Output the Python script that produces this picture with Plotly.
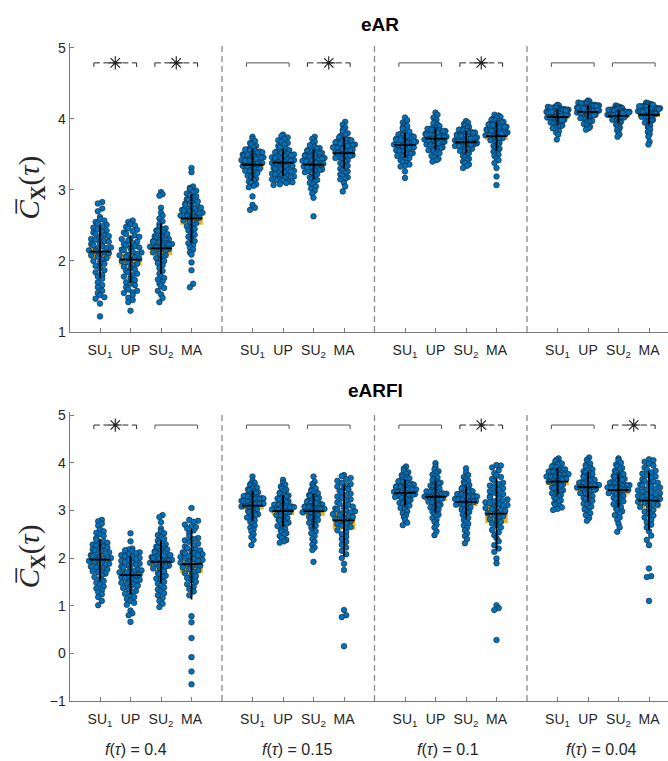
import numpy as np
import plotly.graph_objects as go

# ---------------- data ----------------
CATEGORIES = ["SU<sub>1</sub>", "UP", "SU<sub>2</sub>", "MA"]
F_TAU = ["0.4", "0.15", "0.1", "0.04"]
PANEL_TITLES = ["eAR", "eARFI"]
Y_TICKS_TOP = [1, 2, 3, 4, 5]
Y_TICKS_BOTTOM = [-1, 0, 1, 2, 3, 4, 5]

# significance of (SU1 vs UP, SU2 vs MA) per f(tau) group
SIG_EAR = [[True, True], [False, True], [False, True], [False, False]]
SIG_EARFI = [[True, False], [False, False], [False, True], [False, True]]

# ---- eAR, f = 0.4 ----
eAR_04_SU1 = [2.83, 2.81, 2.74, 2.70, 2.62, 2.59, 2.57, 2.55, 2.53, 2.51,
              2.49, 2.47, 2.45, 2.43, 2.41, 2.40, 2.38, 2.36, 2.35, 2.33,
              2.31, 2.30, 2.28, 2.27, 2.25, 2.24, 2.22, 2.21, 2.19, 2.18,
              2.17, 2.15, 2.14, 2.12, 2.11, 2.09, 2.08, 2.06, 2.04, 2.02,
              2.00, 1.98, 1.96, 1.93, 1.90, 1.87, 1.84, 1.80, 1.78, 1.75,
              1.70, 1.66, 1.63, 1.58, 1.55, 1.52, 1.49, 1.47, 1.40, 1.22]
eAR_04_UP = [2.57, 2.55, 2.52, 2.50, 2.48, 2.46, 2.44, 2.42, 2.40, 2.38,
             2.36, 2.34, 2.32, 2.31, 2.29, 2.27, 2.25, 2.24, 2.22, 2.21,
             2.19, 2.18, 2.16, 2.15, 2.13, 2.12, 2.10, 2.09, 2.08, 2.06,
             2.05, 2.03, 2.02, 2.00, 1.98, 1.96, 1.94, 1.92, 1.90, 1.88,
             1.86, 1.84, 1.82, 1.80, 1.78, 1.76, 1.73, 1.70, 1.68, 1.66,
             1.63, 1.60, 1.58, 1.56, 1.55, 1.52, 1.48, 1.45, 1.42, 1.30]
eAR_04_SU2 = [2.97, 2.94, 2.92, 2.75, 2.68, 2.64, 2.60, 2.56, 2.52, 2.48,
              2.46, 2.45, 2.43, 2.42, 2.40, 2.38, 2.36, 2.35, 2.33, 2.32,
              2.31, 2.30, 2.29, 2.28, 2.27, 2.26, 2.25, 2.24, 2.23, 2.22,
              2.21, 2.20, 2.19, 2.18, 2.17, 2.15, 2.14, 2.12, 2.10, 2.08,
              2.06, 2.04, 2.02, 2.00, 1.97, 1.94, 1.90, 1.86, 1.82, 1.78,
              1.76, 1.74, 1.71, 1.68, 1.65, 1.62, 1.58, 1.53, 1.48, 1.42]
eAR_04_MA = [3.31, 3.25, 3.05, 3.03, 3.01, 2.99, 2.97, 2.95, 2.93, 2.91,
             2.89, 2.87, 2.86, 2.85, 2.84, 2.82, 2.81, 2.79, 2.78, 2.77,
             2.75, 2.74, 2.73, 2.72, 2.71, 2.70, 2.69, 2.68, 2.67, 2.66,
             2.65, 2.64, 2.63, 2.62, 2.61, 2.60, 2.59, 2.57, 2.55, 2.53,
             2.51, 2.49, 2.47, 2.45, 2.43, 2.40, 2.37, 2.34, 2.31, 2.28,
             2.25, 2.22, 2.19, 2.16, 2.12, 2.09, 1.98, 1.87, 1.68, 1.63]
# ---- eAR, f = 0.15 ----
eAR_015_SU1 = [3.75, 3.72, 3.69, 3.66, 3.64, 3.62, 3.60, 3.58, 3.57, 3.56,
               3.55, 3.54, 3.53, 3.52, 3.51, 3.50, 3.49, 3.48, 3.47, 3.46,
               3.45, 3.44, 3.43, 3.42, 3.41, 3.40, 3.39, 3.38, 3.37, 3.36,
               3.35, 3.34, 3.33, 3.32, 3.31, 3.30, 3.29, 3.28, 3.27, 3.26,
               3.25, 3.24, 3.22, 3.20, 3.18, 3.16, 3.14, 3.12, 3.10, 3.08,
               3.06, 3.04, 2.91, 2.79, 2.75, 2.72, 3.47, 3.50, 3.44, 3.41]
eAR_015_UP = [3.78, 3.76, 3.74, 3.72, 3.70, 3.68, 3.66, 3.64, 3.62, 3.60,
              3.58, 3.56, 3.55, 3.54, 3.53, 3.52, 3.51, 3.50, 3.49, 3.48,
              3.47, 3.46, 3.45, 3.44, 3.43, 3.42, 3.41, 3.40, 3.39, 3.38,
              3.37, 3.36, 3.35, 3.34, 3.33, 3.32, 3.31, 3.30, 3.29, 3.28,
              3.27, 3.26, 3.25, 3.24, 3.23, 3.22, 3.21, 3.20, 3.19, 3.18,
              3.17, 3.16, 3.15, 3.14, 3.13, 3.12, 3.11, 3.10, 3.08, 3.07]
eAR_015_SU2 = [3.75, 3.72, 3.68, 3.65, 3.63, 3.61, 3.59, 3.58, 3.57, 3.56,
               3.55, 3.54, 3.53, 3.52, 3.51, 3.50, 3.49, 3.48, 3.47, 3.46,
               3.45, 3.44, 3.43, 3.42, 3.41, 3.40, 3.39, 3.38, 3.37, 3.36,
               3.35, 3.34, 3.33, 3.32, 3.31, 3.30, 3.29, 3.28, 3.27, 3.26,
               3.25, 3.24, 3.22, 3.20, 3.18, 3.16, 3.14, 3.12, 3.10, 3.08,
               3.05, 3.02, 2.99, 2.95, 2.89, 2.63, 3.50, 3.46, 3.42, 3.38]
eAR_015_MA = [3.96, 3.92, 3.88, 3.85, 3.82, 3.80, 3.78, 3.76, 3.74, 3.72,
              3.71, 3.70, 3.69, 3.68, 3.67, 3.66, 3.65, 3.64, 3.63, 3.62,
              3.61, 3.60, 3.59, 3.58, 3.57, 3.56, 3.55, 3.54, 3.53, 3.52,
              3.51, 3.50, 3.49, 3.48, 3.47, 3.46, 3.45, 3.44, 3.42, 3.40,
              3.38, 3.36, 3.34, 3.32, 3.30, 3.28, 3.26, 3.24, 3.22, 3.20,
              3.18, 3.16, 3.15, 3.10, 3.05, 2.98, 3.66, 3.62, 3.58, 3.70]
# ---- eAR, f = 0.1 ----
eAR_01_SU1 = [4.02, 3.98, 3.95, 3.92, 3.90, 3.88, 3.86, 3.84, 3.82, 3.80,
              3.79, 3.78, 3.77, 3.76, 3.75, 3.74, 3.73, 3.72, 3.71, 3.70,
              3.69, 3.68, 3.67, 3.66, 3.65, 3.64, 3.63, 3.62, 3.61, 3.60,
              3.59, 3.58, 3.57, 3.56, 3.55, 3.54, 3.53, 3.52, 3.51, 3.50,
              3.49, 3.48, 3.47, 3.46, 3.45, 3.44, 3.42, 3.40, 3.38, 3.36,
              3.34, 3.33, 3.26, 3.17, 3.70, 3.68, 3.74, 3.76, 3.64, 3.62]
eAR_01_UP = [4.09, 4.06, 4.02, 3.99, 3.96, 3.94, 3.92, 3.90, 3.88, 3.87,
             3.86, 3.85, 3.84, 3.83, 3.82, 3.81, 3.80, 3.79, 3.78, 3.77,
             3.76, 3.75, 3.74, 3.73, 3.72, 3.71, 3.70, 3.69, 3.68, 3.67,
             3.66, 3.65, 3.64, 3.63, 3.62, 3.61, 3.60, 3.59, 3.58, 3.57,
             3.56, 3.55, 3.54, 3.52, 3.50, 3.48, 3.46, 3.44, 3.42, 3.40,
             3.78, 3.76, 3.74, 3.72, 3.70, 3.81, 3.83, 3.85, 3.68, 3.66]
eAR_01_SU2 = [3.97, 3.95, 3.93, 3.91, 3.89, 3.87, 3.86, 3.85, 3.84, 3.83,
              3.82, 3.81, 3.80, 3.79, 3.78, 3.77, 3.76, 3.75, 3.74, 3.73,
              3.72, 3.71, 3.70, 3.69, 3.68, 3.67, 3.66, 3.65, 3.64, 3.63,
              3.62, 3.61, 3.60, 3.59, 3.58, 3.57, 3.56, 3.55, 3.54, 3.52,
              3.50, 3.48, 3.46, 3.44, 3.42, 3.40, 3.38, 3.36, 3.34, 3.31,
              3.80, 3.78, 3.76, 3.74, 3.72, 3.70, 3.68, 3.66, 3.64, 3.62]
eAR_01_MA = [4.06, 4.05, 4.03, 4.02, 4.00, 3.99, 3.98, 3.97, 3.96, 3.95,
             3.94, 3.93, 3.92, 3.91, 3.90, 3.89, 3.88, 3.87, 3.86, 3.85,
             3.84, 3.83, 3.82, 3.81, 3.80, 3.79, 3.78, 3.77, 3.76, 3.75,
             3.74, 3.73, 3.72, 3.71, 3.70, 3.68, 3.66, 3.64, 3.62, 3.60,
             3.58, 3.56, 3.54, 3.52, 3.50, 3.48, 3.45, 3.42, 3.38, 3.31,
             3.19, 3.07, 3.93, 3.91, 3.89, 3.85, 3.83, 3.81, 3.79, 3.77]
# ---- eAR, f = 0.04 ----
eAR_004_SU1 = [4.20, 4.19, 4.18, 4.17, 4.16, 4.16, 4.15, 4.15, 4.14, 4.14,
               4.13, 4.13, 4.12, 4.12, 4.11, 4.11, 4.10, 4.10, 4.09, 4.09,
               4.08, 4.08, 4.07, 4.07, 4.06, 4.06, 4.05, 4.05, 4.04, 4.04,
               4.03, 4.03, 4.02, 4.02, 4.01, 4.01, 4.00, 4.00, 3.99, 3.99,
               3.98, 3.98, 3.97, 3.96, 3.95, 3.94, 3.93, 3.92, 3.91, 3.90,
               3.89, 3.88, 3.87, 3.85, 3.83, 3.81, 3.78, 3.71, 4.12, 4.10]
eAR_004_UP = [4.26, 4.25, 4.24, 4.23, 4.22, 4.22, 4.21, 4.21, 4.20, 4.20,
              4.19, 4.19, 4.18, 4.18, 4.17, 4.17, 4.16, 4.16, 4.15, 4.15,
              4.14, 4.14, 4.13, 4.13, 4.12, 4.12, 4.11, 4.11, 4.10, 4.10,
              4.09, 4.09, 4.08, 4.08, 4.07, 4.07, 4.06, 4.06, 4.05, 4.05,
              4.04, 4.03, 4.02, 4.01, 4.00, 3.99, 3.98, 3.97, 3.96, 3.95,
              3.93, 3.91, 3.89, 3.87, 3.85, 4.18, 4.16, 4.14, 4.12, 4.10]
eAR_004_SU2 = [4.19, 4.18, 4.17, 4.16, 4.15, 4.15, 4.14, 4.14, 4.13, 4.13,
               4.12, 4.12, 4.11, 4.11, 4.10, 4.10, 4.09, 4.09, 4.08, 4.08,
               4.07, 4.07, 4.06, 4.06, 4.05, 4.05, 4.04, 4.04, 4.03, 4.03,
               4.02, 4.02, 4.01, 4.01, 4.00, 4.00, 3.99, 3.98, 3.97, 3.96,
               3.95, 3.94, 3.92, 3.90, 3.88, 3.86, 3.84, 3.81, 3.78, 3.75,
               4.12, 4.11, 4.10, 4.09, 4.08, 4.07, 4.06, 4.05, 4.14, 4.13]
eAR_004_MA = [4.23, 4.22, 4.21, 4.20, 4.20, 4.19, 4.19, 4.18, 4.18, 4.17,
              4.17, 4.16, 4.16, 4.15, 4.15, 4.14, 4.14, 4.13, 4.13, 4.12,
              4.12, 4.11, 4.11, 4.10, 4.10, 4.09, 4.09, 4.08, 4.08, 4.07,
              4.07, 4.06, 4.05, 4.04, 4.03, 4.02, 4.01, 4.00, 3.99, 3.98,
              3.97, 3.96, 3.95, 3.93, 3.91, 3.89, 3.87, 3.85, 3.82, 3.79,
              3.75, 3.68, 3.64, 4.16, 4.14, 4.12, 4.10, 4.18, 4.20, 4.06]

# ---- eARFI, f = 0.4 ----
eARFI_04_SU1 = [2.80, 2.77, 2.72, 2.68, 2.60, 2.56, 2.53, 2.50, 2.46, 2.42,
                2.38, 2.35, 2.32, 2.30, 2.28, 2.26, 2.24, 2.22, 2.20, 2.18,
                2.16, 2.14, 2.12, 2.10, 2.08, 2.06, 2.04, 2.02, 2.00, 1.98,
                1.96, 1.94, 1.92, 1.90, 1.88, 1.86, 1.84, 1.82, 1.80, 1.78,
                1.76, 1.74, 1.72, 1.70, 1.67, 1.64, 1.60, 1.56, 1.52, 1.48,
                1.44, 1.40, 1.36, 1.32, 1.28, 1.24, 1.18, 1.10, 1.01, 2.00]
eARFI_04_UP = [2.52, 2.35, 2.20, 2.18, 2.16, 2.14, 2.12, 2.10, 2.08, 2.06,
               2.04, 2.02, 2.00, 1.98, 1.96, 1.94, 1.92, 1.90, 1.88, 1.86,
               1.84, 1.82, 1.80, 1.78, 1.76, 1.74, 1.72, 1.70, 1.68, 1.66,
               1.64, 1.62, 1.60, 1.58, 1.56, 1.54, 1.52, 1.50, 1.48, 1.46,
               1.44, 1.42, 1.40, 1.37, 1.34, 1.31, 1.28, 1.25, 1.22, 1.18,
               1.14, 1.10, 1.06, 1.02, 0.90, 0.84, 0.80, 0.66, 1.70, 1.65]
eARFI_04_SU2 = [2.90, 2.86, 2.75, 2.62, 2.56, 2.52, 2.48, 2.44, 2.40, 2.36,
                2.32, 2.29, 2.26, 2.24, 2.22, 2.20, 2.18, 2.16, 2.14, 2.12,
                2.10, 2.08, 2.06, 2.04, 2.02, 2.00, 1.98, 1.96, 1.94, 1.92,
                1.90, 1.88, 1.86, 1.84, 1.82, 1.80, 1.78, 1.75, 1.72, 1.69,
                1.66, 1.63, 1.60, 1.57, 1.54, 1.50, 1.46, 1.42, 1.38, 1.34,
                1.30, 1.26, 1.22, 1.16, 1.10, 1.04, 0.97, 2.05, 1.99, 1.93]
eARFI_04_MA = [3.05, 2.80, 2.78, 2.76, 2.70, 2.67, 2.65, 2.62, 2.58, 2.52,
               2.46, 2.42, 2.40, 2.37, 2.34, 2.30, 2.27, 2.24, 2.21, 2.18,
               2.16, 2.14, 2.12, 2.10, 2.08, 2.06, 2.04, 2.02, 2.00, 1.98,
               1.96, 1.94, 1.92, 1.90, 1.88, 1.86, 1.84, 1.82, 1.80, 1.77,
               1.74, 1.71, 1.68, 1.65, 1.62, 1.58, 1.54, 1.50, 1.45, 1.40,
               1.35, 1.30, 1.22, 0.78, 0.65, 0.32, -0.08, -0.38, -0.65, 2.10]
# ---- eARFI, f = 0.15 ----
eARFI_015_SU1 = [3.71, 3.62, 3.58, 3.55, 3.52, 3.50, 3.48, 3.46, 3.44, 3.42,
                 3.40, 3.38, 3.36, 3.34, 3.32, 3.30, 3.29, 3.28, 3.27, 3.26,
                 3.25, 3.24, 3.23, 3.22, 3.21, 3.20, 3.19, 3.18, 3.17, 3.16,
                 3.15, 3.14, 3.13, 3.12, 3.11, 3.10, 3.08, 3.06, 3.04, 3.02,
                 3.00, 2.98, 2.96, 2.94, 2.92, 2.90, 2.88, 2.85, 2.82, 2.79,
                 2.76, 2.72, 2.68, 2.64, 2.60, 2.56, 2.50, 2.44, 2.38, 2.27]
eARFI_015_UP = [3.64, 3.58, 3.54, 3.50, 3.46, 3.43, 3.40, 3.37, 3.35, 3.33,
                3.31, 3.29, 3.27, 3.25, 3.23, 3.21, 3.19, 3.17, 3.15, 3.13,
                3.12, 3.11, 3.10, 3.09, 3.08, 3.07, 3.06, 3.05, 3.04, 3.03,
                3.02, 3.01, 3.00, 2.98, 2.96, 2.94, 2.92, 2.90, 2.88, 2.86,
                2.84, 2.82, 2.80, 2.78, 2.76, 2.74, 2.72, 2.70, 2.67, 2.64,
                2.61, 2.58, 2.55, 2.52, 2.49, 2.46, 2.42, 2.38, 2.35, 2.32]
eARFI_015_SU2 = [3.71, 3.60, 3.55, 3.50, 3.46, 3.43, 3.40, 3.38, 3.36, 3.34,
                 3.32, 3.30, 3.28, 3.26, 3.24, 3.22, 3.20, 3.18, 3.16, 3.14,
                 3.12, 3.11, 3.10, 3.09, 3.08, 3.07, 3.06, 3.05, 3.04, 3.03,
                 3.02, 3.01, 3.00, 2.98, 2.96, 2.94, 2.92, 2.90, 2.88, 2.86,
                 2.84, 2.82, 2.80, 2.77, 2.74, 2.71, 2.68, 2.64, 2.60, 2.56,
                 2.52, 2.46, 2.40, 2.34, 2.28, 2.22, 2.17, 1.92, 3.15, 3.05]
eARFI_015_MA = [3.74, 3.72, 3.68, 3.65, 3.62, 3.58, 3.55, 3.52, 3.50, 3.47,
                3.44, 3.41, 3.38, 3.35, 3.32, 3.29, 3.26, 3.23, 3.20, 3.17,
                3.14, 3.11, 3.08, 3.06, 3.04, 3.02, 3.00, 2.98, 2.96, 2.94,
                2.92, 2.90, 2.88, 2.86, 2.84, 2.82, 2.80, 2.77, 2.74, 2.71,
                2.68, 2.65, 2.62, 2.58, 2.54, 2.50, 2.45, 2.40, 2.34, 2.28,
                2.22, 2.15, 2.08, 2.00, 1.88, 1.75, 0.91, 0.80, 0.76, 0.15]
# ---- eARFI, f = 0.1 ----
eARFI_01_SU1 = [3.92, 3.88, 3.84, 3.80, 3.77, 3.74, 3.71, 3.69, 3.67, 3.65,
                3.63, 3.61, 3.59, 3.57, 3.55, 3.54, 3.53, 3.52, 3.51, 3.50,
                3.49, 3.48, 3.47, 3.46, 3.45, 3.44, 3.43, 3.42, 3.41, 3.40,
                3.39, 3.38, 3.37, 3.36, 3.35, 3.34, 3.33, 3.32, 3.31, 3.30,
                3.28, 3.26, 3.24, 3.22, 3.20, 3.18, 3.16, 3.14, 3.12, 3.10,
                3.08, 3.05, 3.02, 2.98, 2.94, 2.90, 2.86, 2.80, 2.74, 2.69]
eARFI_01_UP = [3.99, 3.92, 3.86, 3.82, 3.78, 3.75, 3.72, 3.69, 3.66, 3.63,
               3.60, 3.58, 3.56, 3.54, 3.52, 3.50, 3.48, 3.46, 3.44, 3.42,
               3.40, 3.39, 3.38, 3.37, 3.36, 3.35, 3.34, 3.33, 3.32, 3.31,
               3.30, 3.29, 3.28, 3.27, 3.26, 3.25, 3.24, 3.22, 3.20, 3.18,
               3.16, 3.14, 3.12, 3.10, 3.08, 3.06, 3.04, 3.02, 3.00, 2.97,
               2.94, 2.91, 2.88, 2.84, 2.80, 2.76, 2.70, 2.64, 2.56, 2.48]
eARFI_01_SU2 = [3.88, 3.80, 3.74, 3.70, 3.66, 3.62, 3.59, 3.56, 3.53, 3.50,
                3.48, 3.46, 3.44, 3.42, 3.40, 3.38, 3.36, 3.35, 3.34, 3.33,
                3.32, 3.31, 3.30, 3.29, 3.28, 3.27, 3.26, 3.25, 3.24, 3.23,
                3.22, 3.21, 3.20, 3.19, 3.18, 3.17, 3.16, 3.14, 3.12, 3.10,
                3.08, 3.06, 3.04, 3.02, 3.00, 2.97, 2.94, 2.91, 2.88, 2.84,
                2.80, 2.76, 2.72, 2.68, 2.64, 2.58, 2.52, 2.46, 2.40, 2.31]
eARFI_01_MA = [3.95, 3.94, 3.90, 3.84, 3.78, 3.74, 3.70, 3.66, 3.62, 3.58,
               3.55, 3.52, 3.49, 3.46, 3.43, 3.40, 3.37, 3.34, 3.31, 3.29,
               3.27, 3.25, 3.23, 3.21, 3.19, 3.17, 3.15, 3.13, 3.11, 3.09,
               3.07, 3.05, 3.03, 3.01, 2.99, 2.97, 2.94, 2.91, 2.88, 2.85,
               2.82, 2.79, 2.76, 2.72, 2.68, 2.64, 2.59, 2.54, 2.48, 2.42,
               2.35, 2.27, 2.20, 2.13, 1.99, 1.89, 1.01, 0.95, 0.91, 0.28]
# ---- eARFI, f = 0.04 ----
eARFI_004_SU1 = [4.09, 4.06, 4.03, 4.00, 3.98, 3.96, 3.94, 3.92, 3.90, 3.88,
                 3.86, 3.85, 3.84, 3.83, 3.82, 3.81, 3.80, 3.79, 3.78, 3.77,
                 3.76, 3.75, 3.74, 3.73, 3.72, 3.71, 3.70, 3.69, 3.68, 3.67,
                 3.66, 3.65, 3.64, 3.62, 3.60, 3.58, 3.56, 3.54, 3.52, 3.50,
                 3.48, 3.46, 3.44, 3.42, 3.40, 3.38, 3.36, 3.34, 3.32, 3.30,
                 3.27, 3.24, 3.21, 3.18, 3.15, 3.12, 3.09, 3.06, 3.03, 3.01]
eARFI_004_UP = [4.11, 4.06, 4.02, 3.98, 3.95, 3.92, 3.89, 3.86, 3.84, 3.82,
                3.80, 3.78, 3.76, 3.74, 3.72, 3.70, 3.68, 3.66, 3.64, 3.62,
                3.60, 3.59, 3.58, 3.57, 3.56, 3.55, 3.54, 3.53, 3.52, 3.51,
                3.50, 3.49, 3.48, 3.47, 3.46, 3.45, 3.44, 3.42, 3.40, 3.38,
                3.36, 3.34, 3.32, 3.30, 3.28, 3.26, 3.24, 3.22, 3.20, 3.17,
                3.14, 3.11, 3.08, 3.05, 3.02, 2.98, 2.94, 2.90, 2.84, 2.78]
eARFI_004_SU2 = [4.09, 4.05, 4.00, 3.96, 3.92, 3.89, 3.86, 3.83, 3.80, 3.78,
                 3.76, 3.74, 3.72, 3.70, 3.68, 3.66, 3.64, 3.62, 3.60, 3.58,
                 3.56, 3.55, 3.54, 3.53, 3.52, 3.51, 3.50, 3.49, 3.48, 3.47,
                 3.46, 3.45, 3.44, 3.43, 3.42, 3.40, 3.38, 3.36, 3.34, 3.32,
                 3.30, 3.28, 3.26, 3.24, 3.22, 3.19, 3.16, 3.13, 3.10, 3.07,
                 3.04, 3.01, 2.98, 2.94, 2.90, 2.85, 2.80, 2.72, 2.64, 2.55]
eARFI_004_MA = [4.07, 4.05, 4.02, 3.98, 3.94, 3.90, 3.86, 3.83, 3.80, 3.77,
                3.74, 3.71, 3.68, 3.65, 3.62, 3.60, 3.58, 3.56, 3.54, 3.52,
                3.50, 3.48, 3.46, 3.44, 3.42, 3.40, 3.38, 3.36, 3.34, 3.32,
                3.30, 3.28, 3.26, 3.24, 3.22, 3.20, 3.18, 3.16, 3.14, 3.12,
                3.10, 3.07, 3.04, 3.01, 2.97, 2.93, 2.89, 2.85, 2.80, 2.75,
                2.70, 2.64, 2.56, 2.47, 2.38, 2.27, 1.78, 1.62, 1.60, 1.10]

PANELS = [
    [[eAR_04_SU1, eAR_04_UP, eAR_04_SU2, eAR_04_MA],
     [eAR_015_SU1, eAR_015_UP, eAR_015_SU2, eAR_015_MA],
     [eAR_01_SU1, eAR_01_UP, eAR_01_SU2, eAR_01_MA],
     [eAR_004_SU1, eAR_004_UP, eAR_004_SU2, eAR_004_MA]],
    [[eARFI_04_SU1, eARFI_04_UP, eARFI_04_SU2, eARFI_04_MA],
     [eARFI_015_SU1, eARFI_015_UP, eARFI_015_SU2, eARFI_015_MA],
     [eARFI_01_SU1, eARFI_01_UP, eARFI_01_SU2, eARFI_01_MA],
     [eARFI_004_SU1, eARFI_004_UP, eARFI_004_SU2, eARFI_004_MA]],
]
SIGS = [SIG_EAR, SIG_EARFI]

# ---------------- layout constants ----------------
W, H = 668, 761
X_LEFT_PX = 69.5
PX_PER_X = 30.5
X_MAX = (W - X_LEFT_PX) / PX_PER_X
PANEL_PX = [(43.0, 332.0), (411.7, 701.0)]      # top, bottom pixel rows of axes
Y_RANGES = [(1.0, 5.07), (-1.0, 5.07)]

BLUE = "#0072BD"
ORANGE = "#EDB120"
AXIS_GREY = "#7a7a7a"
TEXT = "#262626"
FONT = "Liberation Sans, Arial, sans-serif"

fig = go.Figure()


def swarm_offsets(vals, px_per_y, bin_px=5.5, max_half=0.36, dx_px=6.0):
    v = np.asarray(vals, dtype=float)
    bins = np.floor((v - v.min()) * px_per_y / bin_px).astype(int)
    counts = np.bincount(bins)
    kmax = counts.max()
    step = dx_px / PX_PER_X
    if kmax > 1:
        step = min(step, 2 * max_half / (kmax - 1))
    offs = np.zeros(len(v))
    for b in np.unique(bins):
        idx = np.where(bins == b)[0]
        idx = idx[np.argsort(v[idx], kind="stable")]
        k = len(idx)
        pos = (np.arange(k) - (k - 1) / 2.0) * step
        order = list(range(0, k, 2)) + list(range(1, k, 2))[::-1]
        for j, o in zip(order, range(k)):
            offs[idx[o]] = pos[j]
    return offs


def t975(n):
    df = n - 1
    return 1.96 + 2.4 / df


shapes = []
annotations = []
for p, groups in enumerate(PANELS):
    xa = "x" if p == 0 else "x2"
    ya = "y" if p == 0 else "y2"
    top_px, bot_px = PANEL_PX[p]
    y0, y1 = Y_RANGES[p]
    px_per_y = (bot_px - top_px) / (y1 - y0)

    for g, cats in enumerate(groups):
        for c, vals in enumerate(cats):
            xc = 1 + g * 5 + c
            v = np.asarray(vals, dtype=float)
            n = len(v)
            m = v.mean()
            sd = v.std(ddof=1)
            ci = t975(n) * sd / np.sqrt(n)
            shapes.append(dict(type="rect", xref=xa, yref=ya, x0=xc - 0.37, x1=xc + 0.37,
                               y0=m - ci, y1=m + ci, fillcolor=ORANGE, line=dict(width=0),
                               layer="below"))
            offs = swarm_offsets(v, px_per_y)
            fig.add_trace(go.Scatter(
                x=xc + offs, y=v, xaxis=xa, yaxis=ya, mode="markers",
                marker=dict(size=5.6, color=BLUE, line=dict(color="#15212b", width=0.6)),
                hoverinfo="skip", showlegend=False, cliponaxis=False))
            # SD whisker and mean bar
            shapes.append(dict(type="line", xref=xa, yref=ya, x0=xc, x1=xc,
                               y0=m - sd, y1=m + sd, line=dict(color="black", width=1.8),
                               layer="above"))
            shapes.append(dict(type="line", xref=xa, yref=ya, x0=xc - 0.35, x1=xc + 0.35,
                               y0=m, y1=m, line=dict(color="black", width=1.8),
                               layer="above"))

        # significance brackets
        by = 4.79
        drop = 4.0 / px_per_y
        for k, sig in enumerate(SIGS[p][g]):
            bx0 = 1 + g * 5 + 2 * k - 0.2
            bx1 = bx0 + 1.4
            col = "#262626" if sig else "#555555"
            dash = "6px,3.5px" if sig else "solid"
            shapes.append(dict(type="line", xref=xa, yref=ya, x0=bx0, x1=bx1, y0=by, y1=by,
                               line=dict(color=col, width=1, dash=dash)))
            for bx in (bx0, bx1):
                shapes.append(dict(type="line", xref=xa, yref=ya, x0=bx, x1=bx,
                                   y0=by, y1=by - drop, line=dict(color=col, width=1)))
            if sig:
                fig.add_trace(go.Scatter(
                    x=[(bx0 + bx1) / 2], y=[by], xaxis=xa, yaxis=ya, mode="markers",
                    marker=dict(symbol="asterisk-open", size=11, color="#1a1a1a",
                                line=dict(color="#1a1a1a", width=1.1)),
                    hoverinfo="skip", showlegend=False, cliponaxis=False))

    # dashed separators
    for sx in (5, 10, 15):
        shapes.append(dict(type="line", xref=xa, yref=f"{ya} domain", x0=sx, x1=sx, y0=0, y1=1,
                           line=dict(color="#8a8a8a", width=1.3, dash="6px,4px")))

    # panel title
    title_px_x = [380.0, 375.0][p]
    title_px_y = [24.0, 390.0][p]
    annotations.append(dict(text=f"<b>{PANEL_TITLES[p]}</b>", xref="paper", yref="paper",
                            x=title_px_x / W, y=1 - title_px_y / H, showarrow=False,
                            xanchor="center", yanchor="middle",
                            font=dict(family=FONT, size=19, color="black")))
    # y label
    annotations.append(dict(text="<i>C̅</i><sub><b>X</b></sub>(<i>τ</i>)",
                            xref="paper", yref="paper", x=31.0 / W,
                            y=1 - (top_px + bot_px) / 2 / H, showarrow=False, textangle=-90,
                            xanchor="center", yanchor="middle",
                            font=dict(family="Liberation Serif, serif", size=29, color=TEXT)))

# f(tau) labels under bottom panel
F_LABEL_PX = [136.0, 297.0, 448.5, 601.7]
for g, lab in enumerate(F_TAU):
    annotations.append(dict(text=f"<i>f</i>(<i>τ</i>) = {lab}", xref="paper", yref="paper",
                            x=F_LABEL_PX[g] / W, y=1 - 749.0 / H, showarrow=False,
                            xanchor="center", yanchor="middle",
                            font=dict(family=FONT, size=16, color=TEXT)))

tickvals = [1 + g * 5 + c for g in range(4) for c in range(4)]
ticktext = CATEGORIES * 4

xcommon = dict(range=[0, X_MAX], domain=[X_LEFT_PX / W, 1.0], showline=True,
               linecolor=AXIS_GREY, linewidth=1, ticks="inside", ticklen=4, tickwidth=1,
               tickcolor=AXIS_GREY, tickvals=tickvals, ticktext=ticktext,
               tickfont=dict(family=FONT, size=14, color=TEXT), showgrid=False,
               zeroline=False, fixedrange=True, automargin=False, ticklabelstandoff=5)
ycommon = dict(showline=True, linecolor=AXIS_GREY, linewidth=1, ticks="inside", ticklen=4,
               tickwidth=1, tickcolor=AXIS_GREY, tickfont=dict(family=FONT, size=14, color=TEXT),
               showgrid=False, zeroline=False, fixedrange=True, automargin=False)

fig.update_layout(
    width=W, height=H, margin=dict(l=0, r=0, t=0, b=0, autoexpand=False),
    paper_bgcolor="white", plot_bgcolor="white", showlegend=False,
    xaxis=dict(**xcommon, anchor="y"),
    xaxis2=dict(**xcommon, anchor="y2"),
    yaxis=dict(**ycommon, anchor="x", range=list(Y_RANGES[0]), tickvals=Y_TICKS_TOP,
               domain=[1 - PANEL_PX[0][1] / H, 1 - PANEL_PX[0][0] / H]),
    yaxis2=dict(**ycommon, anchor="x2", range=list(Y_RANGES[1]), tickvals=Y_TICKS_BOTTOM,
                domain=[1 - PANEL_PX[1][1] / H, 1 - PANEL_PX[1][0] / H]),
    shapes=shapes, annotations=annotations,
)

fig.write_html("out.html", config={"displayModeBar": False},
               post_script="document.body.style.margin='0';"
                           "document.body.style.overflow='hidden';")
